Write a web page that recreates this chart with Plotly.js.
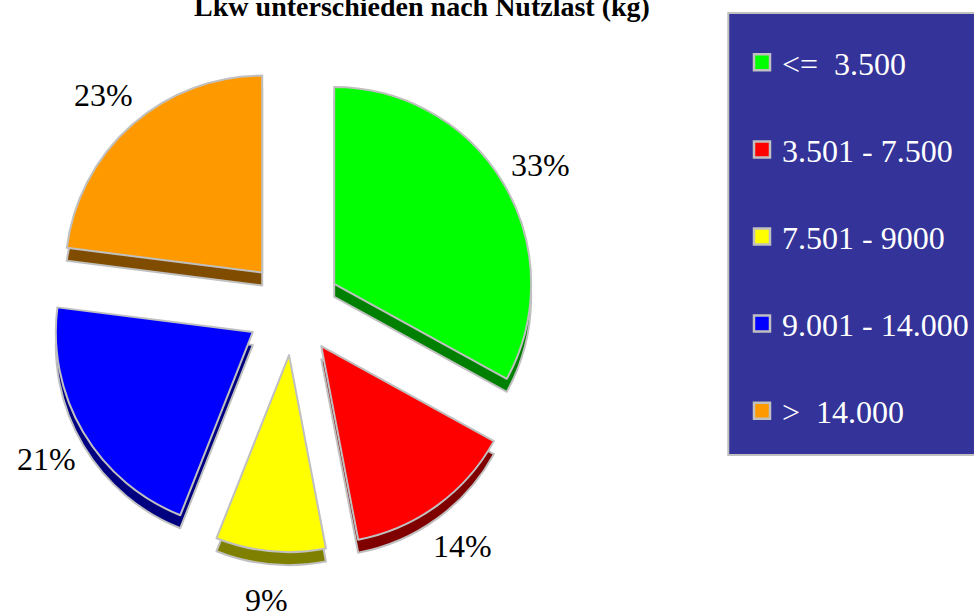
<!DOCTYPE html>
<html>
<head>
<meta charset="utf-8">
<script src="https://cdn.plot.ly/plotly-3.0.1.min.js"></script>
<style>html,body{margin:0;padding:0;background:#fff;}#chart{width:974px;height:612px;}</style>
</head>
<body>
<div id="chart"></div>
<script>
const chartTitle = "Lkw unterschieden nach Nutzlast (kg)";
const categories = ["<=  3.500", "3.501 - 7.500", "7.501 - 9000", "9.001 - 14.000", ">  14.000"];
const shares = [33, 14, 9, 21, 23];
const topColors = ["#00ff00", "#ff0000", "#ffff00", "#0000ff", "#ff9900"];
const sideColors = ["#008000", "#800000", "#808000", "#000080", "#804c00"];
const pulls = [0.24, 0.24, 0.24, 0.24, 0.24];

const W = 974, H = 612;
const cx = 295, cy = 308, half = 245.5, depth = 13;
const labelCy = 312, labelR = 289;
const dom = (dy, h) => ({
  x: [(cx - h) / W, (cx + h) / W],
  y: [(H - cy - dy - h) / H, (H - cy - dy + h) / H]
});

const serif = "'Liberation Serif', 'Times New Roman', Times, serif";

const sideTrace = {
  type: "pie", values: shares, labels: categories, sort: false, direction: "clockwise",
  rotation: 0, pull: pulls, domain: dom(depth, half), textinfo: "none", hoverinfo: "skip",
  showlegend: false, marker: {colors: sideColors, line: {color: "#c0c0c0", width: 2}}
};
const topTrace = {
  type: "pie", values: shares, labels: categories, sort: false, direction: "clockwise",
  rotation: 0, pull: pulls, domain: dom(0, half), textinfo: "none", hoverinfo: "skip",
  showlegend: false, marker: {colors: topColors, line: {color: "#c0c0c0", width: 2}}
};
const legendTraces = categories.map((c, i) => ({
  type: "scatter", mode: "markers", x: [null], y: [null], name: c,
  legendgroup: "g" + i, showlegend: true, hoverinfo: "skip",
  marker: {symbol: "square", size: 16, color: topColors[i], line: {color: "#c0c0c0", width: 2.5}}
}));

// percentage labels placed on each slice's bisector, derived from the shares
const total = shares.reduce((a, b) => a + b, 0);
let cum = 0;
const labelAnnotations = shares.map((v) => {
  const mid = (cum + v / 2) / total * 2 * Math.PI;
  cum += v;
  return {
    xref: "paper", yref: "paper", showarrow: false,
    x: (cx + labelR * Math.sin(mid)) / W,
    y: (H - labelCy + labelR * Math.cos(mid)) / H,
    xanchor: "center", yanchor: "middle",
    text: Math.round(v / total * 100) + "%",
    font: {family: serif, size: 32, color: "#000"}
  };
});

const layout = {
  width: W, height: H,
  margin: {l: 0, r: 0, t: 0, b: 0},
  paper_bgcolor: "#ffffff", plot_bgcolor: "rgba(0,0,0,0)",
  font: {family: serif},
  title: {text: chartTitle, font: {family: serif, size: 28, color: "#000", weight: 700},
          x: 422 / W, xanchor: "center", yref: "container", y: 1 - 6 / H, yanchor: "middle"},
  xaxis: {visible: false}, yaxis: {visible: false},
  showlegend: true,
  legend: {x: 746 / W, xanchor: "left", y: 1 - 35 / H, yanchor: "top",
           bgcolor: "rgba(0,0,0,0)", borderwidth: 0, traceorder: "grouped", tracegroupgap: 42.5,
           font: {family: serif, size: 32, color: "#ffffff"}},
  annotations: labelAnnotations,
  shapes: [{type: "rect", xref: "paper", yref: "paper", x0: 732 / W, x1: 980 / W,
            y0: 1 - 455 / H, y1: 1 - 13 / H, fillcolor: "#333399",
            line: {color: "#c0c0c0", width: 2}, layer: "below"}]
};

Plotly.newPlot("chart", [sideTrace, topTrace, ...legendTraces], layout, {displayModeBar: false, staticPlot: true});
</script>
</body>
</html>
